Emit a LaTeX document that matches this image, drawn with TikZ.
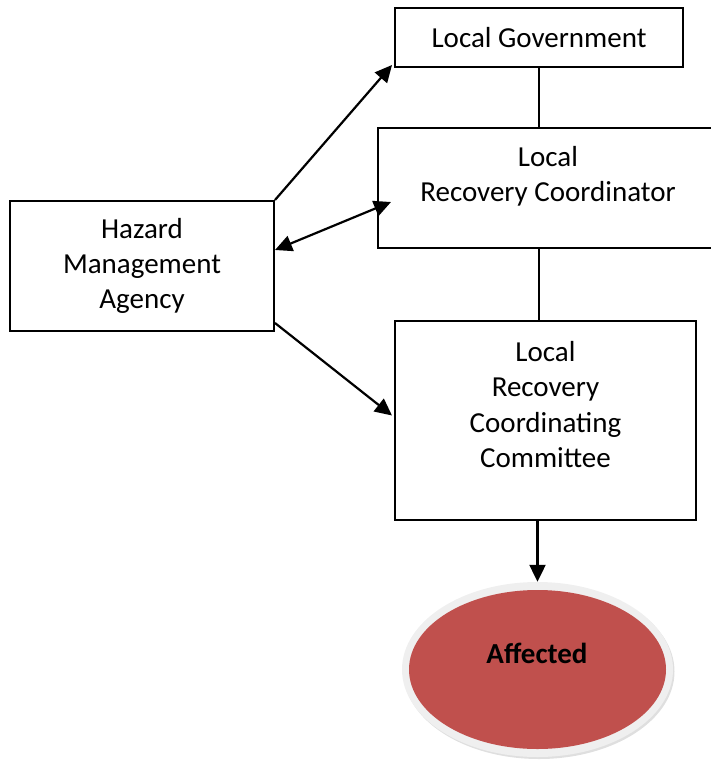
\documentclass[tikz,border=0pt]{standalone}
\usepackage{fontspec}
\setmainfont{Carlito}
\usetikzlibrary{arrows.meta,shapes.geometric,shadows}
\definecolor{affred}{HTML}{C0504D}
\definecolor{rimgray}{HTML}{EFEFEF}
\tikzset{
  box/.style={draw=black, line width=2pt, fill=white, inner sep=0pt, rectangle},
  lbl/.style={font=\fontsize{29}{35.4}\selectfont, align=center, inner sep=0pt, text=black},
  link/.style={line width=2.2pt, draw=black},
  arr/.style={link, -{Triangle[length=17pt,width=16pt]}},
  darr/.style={link, {Triangle[length=17pt,width=16pt]}-{Triangle[length=17pt,width=16pt]}},
}
\begin{document}
\begin{tikzpicture}[x=1pt,y=-1pt]
\useasboundingbox (0,0) rectangle (710,760);
% boxes
\node[box, minimum width=288pt, minimum height=59pt] (lg) at (539,37.5) {};
\node[box, minimum width=340pt, minimum height=120pt] (lrc) at (548,188) {};
\node[box, minimum width=264pt, minimum height=130pt] (hma) at (142,266) {};
\node[box, minimum width=301pt, minimum height=199pt] (lrcc) at (545.5,420.5) {};
% ellipse
\node[ellipse, fill=rimgray, minimum width=271pt, minimum height=175pt, inner sep=0pt,
      drop shadow={shadow xshift=1.5pt, shadow yshift=-2pt, opacity=0.25}] (ell) at (537.5,669.5) {};
\node[ellipse, fill=affred, minimum width=257pt, minimum height=159pt, inner sep=0pt] (ellin) at (ell.center) {};
% texts
\node[lbl] (lgT) at (lg.center) {Local Government};
\node[lbl] (lrcT) at (548,176) {Local\\Recovery Coordinator};
\node[lbl] (hmaT) at (hma.center) {Hazard\\Management\\Agency};
\node[lbl] (lrccT) at (545.5,404.5) {Local\\Recovery\\Coordinating\\Committee};
\node[lbl, font=\fontsize{29}{35.4}\selectfont\bfseries] (affT) at (537,653) {Affected};
% connectors
\draw[link] (lg.south) -- (lg.south |- lrc.north);
\draw[link] (lg.south |- lrc.south) -- (lg.south |- lrcc.north);
\draw[arr] (lrcc.south -| ell.north) -- (ell.north);
\draw[arr] (hma.north east) -- ([xshift=-2pt,yshift=3pt]lg.south west);
\draw[darr] ([yshift=16pt]hma.east) -- ([xshift=14pt,yshift=-14pt]lrc.west);
\draw[arr] ([yshift=9pt]hma.south east) -- ([xshift=-2pt,yshift=5pt]lrcc.west);
\end{tikzpicture}
\end{document}
